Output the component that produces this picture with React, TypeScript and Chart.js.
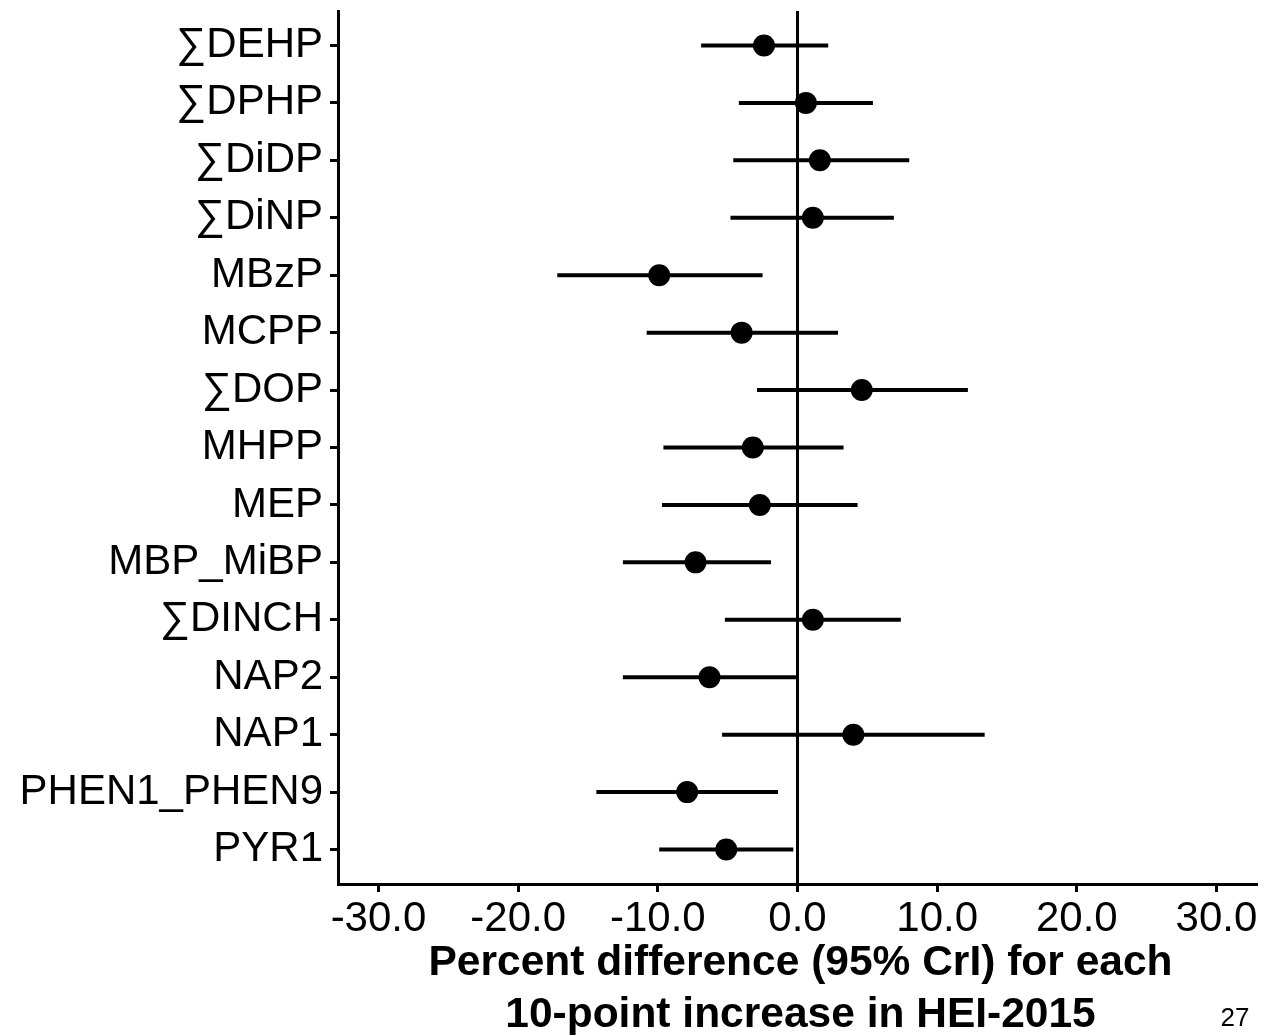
import React, { useEffect, useRef } from "react";
import { Chart, registerables } from "chart.js";

Chart.register(...registerables);

const categories = [
  "∑DEHP", "∑DPHP", "∑DiDP", "∑DiNP", "MBzP", "MCPP", "∑DOP", "MHPP",
  "MEP", "MBP_MiBP", "∑DINCH", "NAP2", "NAP1", "PHEN1_PHEN9", "PYR1",
];
const estimates = [-2.4, 0.6, 1.6, 1.1, -9.9, -4.0, 4.6, -3.2, -2.7, -7.3, 1.1, -6.3, 4.0, -7.9, -5.1];
const lower = [-6.9, -4.2, -4.6, -4.8, -17.2, -10.8, -2.9, -9.6, -9.7, -12.5, -5.2, -12.5, -5.4, -14.4, -9.9];
const upper = [2.2, 5.4, 8.0, 6.9, -2.5, 2.9, 12.2, 3.3, 4.3, -1.9, 7.4, 0.0, 13.4, -1.4, -0.3];
const xTicks = [-30, -20, -10, 0, 10, 20, 30];
const xTitle = ["Percent difference (95% CrI) for each", "10-point increase in HEI-2015"];
const pageNumber = "27";

const FONT = '"Liberation Sans", Arial, Helvetica, sans-serif';

export default function App() {
  const canvasRef = useRef<HTMLCanvasElement | null>(null);

  useEffect(() => {
    const canvas = canvasRef.current;
    if (!canvas) return;

    const refLine = {
      id: "refLine",
      beforeDatasetsDraw(chart: any) {
        const { ctx, chartArea, scales } = chart;
        const x = scales.x.getPixelForValue(0);
        ctx.save();
        ctx.strokeStyle = "#000";
        ctx.lineWidth = 3;
        ctx.beginPath();
        ctx.moveTo(x, chartArea.top);
        ctx.lineTo(x, chartArea.bottom);
        ctx.stroke();
        ctx.restore();
      },
      afterDraw(chart: any) {
        const { ctx, chartArea } = chart;
        const cx = (chartArea.left + chartArea.right) / 2 + 3;
        ctx.save();
        ctx.fillStyle = "#000";
        ctx.textAlign = "center";
        ctx.textBaseline = "middle";
        ctx.font = `bold 42.5px ${FONT}`;
        ctx.fillText(xTitle[0], cx, chartArea.bottom + 79);
        ctx.fillText(xTitle[1], cx, chartArea.bottom + 131);
        ctx.font = `26px ${FONT}`;
        ctx.fillText(pageNumber, 1235, chartArea.bottom + 135);
        ctx.restore();
      },
    };

    const datasets: any[] = [
      {
        data: estimates.map((v, i) => ({ x: v, y: i })),
        pointRadius: 11,
        pointHoverRadius: 11,
        pointBackgroundColor: "#000",
        pointBorderWidth: 0,
        showLine: false,
        order: 0,
      },
      ...categories.map((_, i) => ({
        data: [
          { x: lower[i], y: i },
          { x: upper[i], y: i },
        ],
        showLine: true,
        borderColor: "#000",
        borderWidth: 4,
        borderCapStyle: "butt",
        pointRadius: 0,
        pointHoverRadius: 0,
        order: 1,
      })),
    ];

    const chart = new Chart(canvas, {
      type: "scatter",
      data: { datasets },
      plugins: [refLine],
      options: {
        animation: false,
        responsive: false,
        events: [],
        layout: { padding: { top: 7, right: 27, left: 0, bottom: 0 } },
        plugins: { legend: { display: false }, tooltip: { enabled: false } },
        scales: {
          x: {
            type: "linear",
            min: -32.9,
            max: 32.9,
            afterBuildTicks: (scale: any) => {
              scale.ticks = xTicks.map((v) => ({ value: v }));
            },
            afterFit: (scale: any) => {
              scale.height = 151;
              scale.paddingLeft = 0;
              scale.paddingRight = 0;
            },
            ticks: {
              callback: (v: any) => Number(v).toFixed(1),
              color: "#000",
              font: { family: FONT, size: 42 },
              padding: 2,
              maxRotation: 0,
              autoSkip: false,
            },
            grid: {
              drawOnChartArea: false,
              drawTicks: true,
              tickLength: 8,
              tickWidth: 3,
              tickColor: "#000",
            },
            border: { display: true, color: "#000", width: 3 },
          },
          y: {
            type: "linear",
            reverse: true,
            min: -0.6,
            max: 14.6,
            afterBuildTicks: (scale: any) => {
              scale.ticks = categories.map((_, i) => ({ value: i }));
            },
            afterFit: (scale: any) => {
              scale.width = 338;
              scale.paddingTop = 0;
              scale.paddingBottom = 0;
            },
            ticks: {
              callback: (v: any) => categories[Math.round(Number(v))] ?? "",
              color: "#000",
              font: { family: FONT, size: 42 },
              padding: 7,
              autoSkip: false,
            },
            grid: {
              drawOnChartArea: false,
              drawTicks: true,
              tickLength: 8,
              tickWidth: 3,
              tickColor: "#000",
            },
            border: { display: true, color: "#000", width: 3 },
          },
        },
      },
    });

    return () => chart.destroy();
  }, []);

  return (
    <div style={{ position: "absolute", left: 0, top: 0, width: 1284, height: 1035, background: "#fff" }}>
      <canvas ref={canvasRef} width={1284} height={1035} style={{ display: "block" }} />
    </div>
  );
}
